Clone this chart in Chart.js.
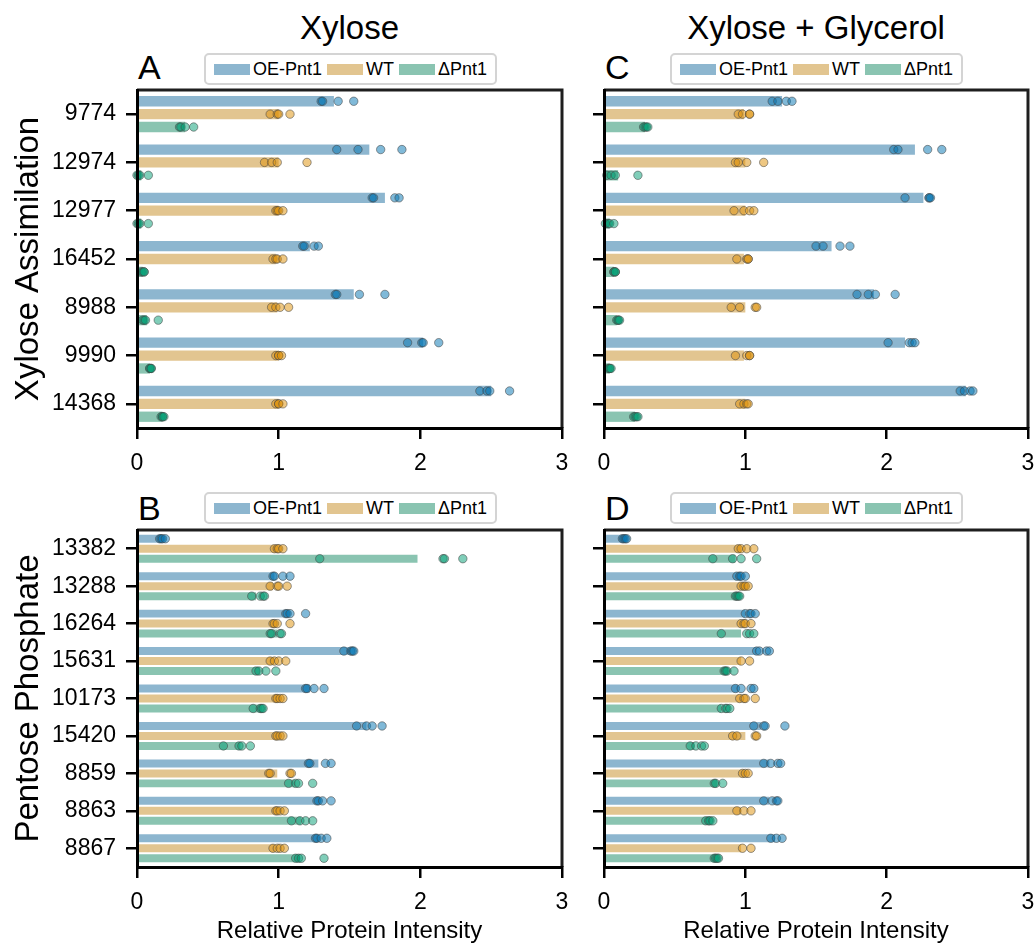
<!DOCTYPE html>
<html>
<head>
<meta charset="utf-8">
<script src="https://cdn.jsdelivr.net/npm/chart.js@4/dist/chart.umd.min.js"></script>
<style>
  html, body { margin: 0; padding: 0; background: #fff; }
  body { width: 1035px; height: 946px; position: relative; overflow: hidden; font-family: "Liberation Sans", Arial, sans-serif; color: #000; }
  canvas { position: absolute; }
  .title { position: absolute; text-align: center; font-size: 33px; line-height: 40px; }
  .letter { position: absolute; font-size: 34px; line-height: 34px; }
  .legend { position: absolute; height: 28px; border: 2px solid #d4d4d4; border-radius: 5px; display: flex; align-items: center; padding: 0 8px; box-sizing: content-box; font-size: 18px; background: #fff; }
  .legend .sw { width: 36px; height: 11px; margin-right: 3px; }
  .legend .lb { margin-right: 5px; }
  .legend .lb:last-child { margin-right: 0; }
</style>
</head>
<body>
<div class="title" style="left:137px; width:425px; top:8px;">Xylose</div>
<div class="title" style="left:604px; width:424px; top:8px;">Xylose + Glycerol</div>
<div class="letter" style="left:138px; top:50px;">A</div>
<div class="letter" style="left:605px; top:50px;">C</div>
<div class="letter" style="left:138px; top:491px;">B</div>
<div class="letter" style="left:605px; top:491px;">D</div>
<div class="legend" id="legA" style="left:204px; top:53px;"></div>
<div class="legend" id="legC" style="left:670px; top:53px;"></div>
<div class="legend" id="legB" style="left:204px; top:492px;"></div>
<div class="legend" id="legD" style="left:670px; top:492px;"></div>

<canvas id="cA" width="580" height="400" style="left:0px; top:80px;"></canvas>
<canvas id="cC" width="455" height="400" style="left:580px; top:80px;"></canvas>
<canvas id="cB" width="580" height="426" style="left:0px; top:520px;"></canvas>
<canvas id="cD" width="455" height="426" style="left:580px; top:520px;"></canvas>

<script>
// ---------- data ----------
const seriesNames = ['OE-Pnt1', 'WT', '\u0394Pnt1'];
const xTicks = [0, 1, 2, 3];

const xyloseCats = ['9774', '12974', '12977', '16452', '8988', '9990', '14368'];
const pentoseCats = ['13382', '13288', '16264', '15631', '10173', '15420', '8859', '8863', '8867'];

// Panel A: Xylose assimilation, Xylose
const A_OE = [1.39, 1.64, 1.75, 1.22, 1.53, 2.02, 2.50];
const A_WT = [1.00, 1.00, 1.00, 0.98, 0.99, 1.00, 1.00];
const A_KO = [0.34, 0.03, 0.03, 0.04, 0.07, 0.09, 0.18];
const A_OE_pts = [[1.30,1.31,1.42,1.53],[1.41,1.56,1.72,1.87],[1.66,1.67,1.82,1.85],[1.17,1.18,1.25,1.28],[1.40,1.41,1.57,1.75],[1.91,2.01,2.02,2.13],[2.42,2.47,2.49,2.63]];
const A_WT_pts = [[0.94,0.99,1.00,1.08],[0.90,0.95,0.99,1.20],[0.98,0.99,1.00,1.03],[0.96,0.98,0.99,1.03],[0.95,0.98,1.01,1.07],[0.98,1.00,1.00,1.02],[0.98,1.00,1.00,1.03]];
const A_KO_pts = [[0.30,0.31,0.34,0.40],[0.00,0.01,0.02,0.08],[0.00,0.01,0.02,0.08],[0.03,0.04,0.05,0.05],[0.04,0.05,0.06,0.15],[0.09,0.09,0.10,0.10],[0.17,0.18,0.18,0.19]];

// Panel C: Xylose assimilation, Xylose + Glycerol
const C_OE = [1.26, 2.20, 2.26, 1.61, 1.91, 2.13, 2.56];
const C_WT = [0.99, 1.00, 1.00, 0.99, 1.00, 0.99, 1.00];
const C_KO = [0.29, 0.10, 0.04, 0.07, 0.09, 0.04, 0.22];
const C_OE_pts = [[1.19,1.23,1.29,1.33],[2.05,2.08,2.29,2.39],[2.13,2.30,2.30,2.31],[1.50,1.55,1.67,1.74],[1.79,1.87,1.92,2.06],[2.01,2.16,2.18,2.20],[2.52,2.55,2.59,2.61]];
const C_WT_pts = [[0.95,0.98,1.03,1.03],[0.93,0.95,1.01,1.13],[0.92,0.99,1.03,1.06],[0.94,1.01,1.02,1.02],[0.90,0.96,1.07,1.08],[0.93,1.01,1.03,1.03],[0.96,0.99,1.01,1.02]];
const C_KO_pts = [[0.28,0.29,0.30,0.31],[0.02,0.05,0.08,0.24],[0.01,0.03,0.04,0.07],[0.07,0.07,0.08,0.08],[0.09,0.10,0.10,0.11],[0.03,0.04,0.04,0.05],[0.21,0.22,0.23,0.24]];

// Panel B: Pentose phosphate, Xylose
const B_OE = [0.18, 0.97, 1.07, 1.51, 1.22, 1.62, 1.28, 1.29, 1.28];
const B_WT = [0.98, 0.96, 0.97, 0.97, 0.99, 0.99, 0.99, 0.99, 0.97];
const B_KO = [1.98, 0.84, 0.99, 0.87, 0.88, 0.73, 1.12, 1.16, 1.15];
const B_OE_pts = [[0.16,0.17,0.18,0.20],[0.96,0.97,1.03,1.08],[1.05,1.06,1.08,1.19],[1.46,1.51,1.52,1.53],[1.19,1.20,1.25,1.32],[1.55,1.62,1.66,1.73],[1.21,1.22,1.33,1.37],[1.27,1.28,1.31,1.37],[1.26,1.27,1.30,1.34]];
const B_WT_pts = [[0.97,0.99,1.00,1.03],[0.94,0.99,1.00,1.06],[0.96,0.97,0.99,1.08],[0.94,0.97,1.00,1.05],[0.98,0.99,1.01,1.03],[0.98,0.99,1.01,1.03],[0.93,0.94,1.08,1.09],[0.98,0.99,1.01,1.04],[0.96,0.99,1.01,1.04]];
const B_KO_pts = [[1.29,2.16,2.17,2.30],[0.81,0.87,0.89,0.90],[0.94,0.95,1.01,1.02],[0.84,0.86,0.91,0.98],[0.82,0.87,0.88,0.89],[0.61,0.72,0.74,0.80],[1.07,1.12,1.14,1.24],[1.09,1.15,1.19,1.24],[1.12,1.14,1.16,1.32]];

// Panel D: Pentose phosphate, Xylose + Glycerol
const D_OE = [0.15, 0.97, 1.00, 1.08, 0.95, 1.11, 1.17, 1.17, 1.21];
const D_WT = [0.97, 0.99, 0.97, 0.97, 0.97, 1.00, 0.99, 0.97, 0.97];
const D_KO = [0.93, 0.95, 0.97, 0.88, 0.83, 0.64, 0.80, 0.75, 0.79];
const D_OE_pts = [[0.13,0.14,0.15,0.16],[0.94,0.96,0.97,1.00],[1.00,1.03,1.04,1.07],[1.08,1.10,1.15,1.17],[0.93,0.97,1.04,1.06],[1.06,1.13,1.14,1.28],[1.13,1.18,1.23,1.25],[1.13,1.19,1.22,1.23],[1.18,1.22,1.26]];
const D_WT_pts = [[0.95,0.97,1.01,1.06],[0.97,0.99,1.00,1.02],[0.97,0.99,1.00,1.04],[0.97,1.03],[0.96,0.99,1.00,1.07],[0.91,0.94,1.07,1.08],[0.98,1.00,1.02],[0.94,0.99,1.04],[0.98,1.04]];
const D_KO_pts = [[0.77,0.91,0.97,1.08],[0.93,0.94,0.95,0.96],[0.83,1.01,1.03,1.06],[0.85,0.86,0.87,0.92],[0.83,0.86,0.87,0.89],[0.61,0.65,0.69,0.71],[0.78,0.79,0.84],[0.72,0.74,0.75,0.77],[0.78,0.79,0.80,0.81]];

// ---------- styles ----------
const barColors = ['#8db6cf', '#e2c590', '#8ac4b1'];
const ptColors = ['rgba(1,115,178,0.5)', 'rgba(222,143,5,0.5)', 'rgba(2,158,115,0.5)'];
const ptEdge = 'rgba(70,70,70,0.55)';
const FONT = '"Liberation Sans", Arial, sans-serif';

// legends (HTML)
['legA','legB','legC','legD'].forEach(id => {
  const el = document.getElementById(id);
  seriesNames.forEach((n, i) => {
    const sw = document.createElement('span'); sw.className = 'sw'; sw.style.background = barColors[i];
    const lb = document.createElement('span'); lb.className = 'lb'; lb.textContent = n;
    el.appendChild(sw); el.appendChild(lb);
  });
});

// replicate points: x from the chart's x scale, y from the matching bar element
const replicatesPlugin = {
  id: 'replicates',
  afterDatasetsDraw(chart, args, opts) {
    const ctx = chart.ctx, xs = chart.scales.x;
    ctx.save();
    opts.pts.forEach((rows, j) => {
      const meta = chart.getDatasetMeta(j);
      rows.forEach((vals, i) => {
        const bar = meta.data[i];
        vals.forEach(v => {
          ctx.beginPath();
          ctx.arc(xs.getPixelForValue(v), bar.y, 4.2, 0, Math.PI * 2);
          ctx.fillStyle = ptColors[j];
          ctx.fill();
          ctx.lineWidth = 1;
          ctx.strokeStyle = ptEdge;
          ctx.stroke();
        });
      });
    });
    ctx.restore();
  }
};

const spinePlugin = {
  id: 'spines',
  afterDatasetsDraw(chart) {
    const {ctx, chartArea: a} = chart;
    ctx.save();
    ctx.strokeStyle = '#1e1e1e';
    ctx.lineWidth = 3;
    ctx.beginPath();
    ctx.moveTo(a.left, a.top); ctx.lineTo(a.right, a.top); ctx.lineTo(a.right, a.bottom);
    ctx.stroke();
    ctx.restore();
  }
};

function makePanel(canvasId, cats, bars, pts, cfg) {
  const datasets = bars.map((vals, j) => ({
    label: seriesNames[j], data: vals,
    backgroundColor: barColors[j], borderWidth: 0,
    categoryPercentage: 0.8, barPercentage: 0.8
  }));
  const tickFont = {family: FONT, size: 23};
  new Chart(document.getElementById(canvasId), {
    type: 'bar',
    data: {labels: cats, datasets},
    options: {
      indexAxis: 'y',
      responsive: false, animation: false, devicePixelRatio: 1,
      layout: {padding: {top: 10, right: cfg.padRight, left: 0, bottom: 0}},
      plugins: {legend: {display: false}, tooltip: {enabled: false}, replicates: {pts}},
      scales: {
        x: {
          type: 'linear', position: 'bottom', min: 0, max: 3,
          afterBuildTicks: s => { s.ticks = xTicks.map(v => ({value: v})); },
          ticks: {font: tickFont, color: '#000', padding: 11},
          grid: {drawOnChartArea: false, drawTicks: true, tickLength: 11, lineWidth: 2.5, color: '#000'},
          border: {display: true, width: 3, color: '#000', z: 1},
          title: {display: !!cfg.xTitle, text: cfg.xTitle || '', font: {family: FONT, size: 24}, color: '#000', padding: {top: 0, bottom: 0}},
          afterFit: s => { s.height = cfg.xH; s.paddingLeft = 0; s.paddingRight = 0; }
        },
        y: {
          type: 'category', position: 'left', offset: true,
          ticks: {display: cfg.yLabels, font: tickFont, color: '#000', padding: 10},
          grid: {drawOnChartArea: false, drawTicks: true, tickLength: 11, lineWidth: 2.5, color: '#000', offset: false},
          border: {display: true, width: 3, color: '#000', z: 1},
          title: {display: !!cfg.yTitle, text: cfg.yTitle || '', font: {family: FONT, size: 33}, color: '#000', padding: {top: 9, bottom: 0}},
          afterFit: s => { s.width = cfg.yW; s.paddingTop = 0; s.paddingBottom = 0; }
        }
      }
    },
    plugins: [replicatesPlugin, spinePlugin]
  });
}

makePanel('cA', xyloseCats, [A_OE, A_WT, A_KO], [A_OE_pts, A_WT_pts, A_KO_pts],
  {yLabels: true, yTitle: 'Xylose Assimilation', xTitle: null, yW: 137, xH: 52, padRight: 18});
makePanel('cC', xyloseCats, [C_OE, C_WT, C_KO], [C_OE_pts, C_WT_pts, C_KO_pts],
  {yLabels: false, yTitle: null, xTitle: null, yW: 24, xH: 52, padRight: 7});
makePanel('cB', pentoseCats, [B_OE, B_WT, B_KO], [B_OE_pts, B_WT_pts, B_KO_pts],
  {yLabels: true, yTitle: 'Pentose Phosphate', xTitle: 'Relative Protein Intensity', yW: 137, xH: 79, padRight: 18});
makePanel('cD', pentoseCats, [D_OE, D_WT, D_KO], [D_OE_pts, D_WT_pts, D_KO_pts],
  {yLabels: false, yTitle: null, xTitle: 'Relative Protein Intensity', yW: 24, xH: 79, padRight: 7});
</script>
</body>
</html>
